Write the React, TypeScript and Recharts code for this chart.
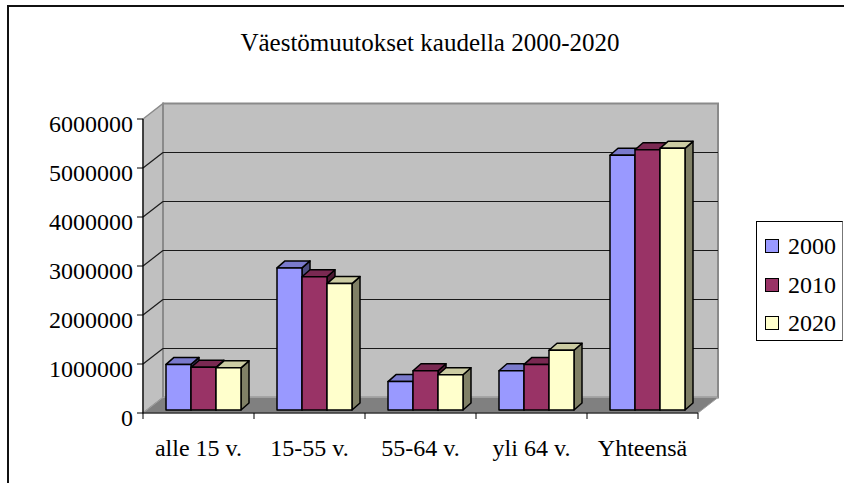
import React from 'react';
import { BarChart, Bar, XAxis, YAxis, ReferenceArea } from 'recharts';

// Väestö ikäryhmittäin, luettu kuvasta
const categories = ['alle 15 v.', '15-55 v.', '55-64 v.', 'yli 64 v.', 'Yhteensä'];
const values2000 = [930000, 2900000, 580000, 800000, 5200000];
const values2010 = [870000, 2720000, 800000, 930000, 5310000];
const values2020 = [860000, 2580000, 720000, 1220000, 5340000];
const seriesNames = ['2000', '2010', '2020'];
const seriesColors = ['#9999FF', '#993366', '#FFFFCC'];
const yTicks = [0, 1000000, 2000000, 3000000, 4000000, 5000000, 6000000];

const FONT = "'Liberation Serif', 'Times New Roman', serif";
// depth of the plot box and of the columns
const DX = 20;
const DY = -15.5;
const FRONT_DX = 5;
const FRONT_DY = -3;
const COL_DX = 8;
const COL_DY = -7;

const data = categories.map((name, i) => ({
  name,
  s2000: values2000[i],
  s2010: values2010[i],
  s2020: values2020[i],
}));

const shade = (hex: string, k: number) => {
  const n = parseInt(hex.slice(1), 16);
  const r = Math.round(((n >> 16) & 255) * k);
  const g = Math.round(((n >> 8) & 255) * k);
  const b = Math.round((n & 255) * k);
  return `rgb(${r},${g},${b})`;
};

const Column3D = (props: any) => {
  const { x, y, width, height, fill } = props;
  if (!width || height == null) return null;
  const x0 = x + FRONT_DX;
  const y0 = y + FRONT_DY;
  const x1 = x0 + width;
  const yb = y0 + height;
  const top = `${x0},${y0} ${x0 + COL_DX},${y0 + COL_DY} ${x1 + COL_DX},${y0 + COL_DY} ${x1},${y0}`;
  const side = `${x1},${y0} ${x1 + COL_DX},${y0 + COL_DY} ${x1 + COL_DX},${yb + COL_DY} ${x1},${yb}`;
  return (
    <g stroke="#000" strokeWidth={1.5} strokeLinejoin="round">
      <polygon points={side} fill={shade(fill, 0.5)} />
      <polygon points={top} fill={shade(fill, 0.8)} />
      <rect x={x0} y={y0} width={width} height={height} fill={fill} />
    </g>
  );
};

// back wall, side wall, floor and grid of the 3D box
const Walls = (props: any) => {
  const { x, y, width, height } = props;
  const max = yTicks[yTicks.length - 1];
  const base = y + height;
  const n = categories.length;
  return (
    <g>
      <polygon
        points={`${x},${y} ${x + DX},${y + DY} ${x + DX},${base + DY} ${x},${base}`}
        fill="#c0c0c0"
        stroke="#8a8a8a"
        strokeWidth={1.5}
      />
      <rect x={x + DX} y={y + DY} width={width} height={height} fill="#c0c0c0" stroke="#8a8a8a" strokeWidth={2} />
      {yTicks
        .filter((v) => v > 0 && v < max)
        .map((v) => {
          const gy = y + height * (1 - v / max);
          return (
            <g key={v} stroke="#1a1a1a" strokeWidth={1.2}>
              <line x1={x + DX} y1={gy + DY} x2={x + DX + width} y2={gy + DY} />
              <line x1={x} y1={gy} x2={x + DX} y2={gy + DY} />
            </g>
          );
        })}
      <polygon
        points={`${x},${base} ${x + DX},${base + DY} ${x + DX + width},${base + DY} ${x + width},${base}`}
        fill="#808080"
        stroke="#a0a0a0"
        strokeWidth={1}
      />
      {categories.concat(['']).map((_, i) => {
        const tx = x + (width * i) / n;
        return <line key={i} x1={tx} y1={base} x2={tx} y2={base + 6} stroke="#000" strokeWidth={1} />;
      })}
    </g>
  );
};

const YTick = (props: any) => {
  const { x, y, payload } = props;
  return (
    <text x={x} y={y} dy={13} textAnchor="end" style={{ fontFamily: FONT }} fontSize={24} fill="#000">
      {String(payload.value)}
    </text>
  );
};

const XTick = (props: any) => {
  const { x, y, payload } = props;
  return (
    <text x={x} y={y} dy={43} textAnchor="middle" style={{ fontFamily: FONT }} fontSize={24} fill="#000">
      {payload.value}
    </text>
  );
};

const LegendBox = () => (
  <div
    style={{
      position: 'absolute',
      left: 756,
      top: 221,
      width: 87,
      height: 120,
      border: '1px solid #000',
      borderRightColor: '#777',
      background: '#fff',
      boxSizing: 'border-box',
      paddingTop: 5,
    }}
  >
    {seriesNames.map((name, i) => (
      <div key={name} style={{ display: 'flex', alignItems: 'center', height: 38.5, paddingLeft: 8 }}>
        <span
          style={{
            display: 'inline-block',
            width: 12,
            height: 12,
            background: seriesColors[i],
            border: '1.5px solid #000',
            marginRight: 9,
          }}
        />
        <span style={{ fontFamily: FONT, fontSize: 24, color: '#000', lineHeight: '24px' }}>{name}</span>
      </div>
    ))}
  </div>
);

export default function App() {
  return (
    <div style={{ position: 'absolute', left: 0, top: 0, width: 844, height: 483, overflow: 'hidden', background: '#fff' }}>
      <div
        style={{
          position: 'absolute',
          left: 7,
          top: 5,
          width: 900,
          height: 600,
          borderLeft: '2px solid #111',
          borderTop: '2px solid #111',
        }}
      />
      <div
        style={{
          position: 'absolute',
          left: 0,
          top: 30,
          width: 860,
          textAlign: 'center',
          fontFamily: FONT,
          fontSize: 25,
          lineHeight: '25px',
          color: '#000',
        }}
      >
        Väestömuutokset kaudella 2000-2020
      </div>
      <div style={{ position: 'absolute', left: 0, top: 0 }}>
        <BarChart
          width={844}
          height={483}
          data={data}
          margin={{ top: 119, right: 146, bottom: 10, left: 8 }}
          barGap={0}
        >
          <ReferenceArea y1={0} y2={yTicks[yTicks.length - 1]} shape={Walls} ifOverflow="visible" />
          <XAxis
            dataKey="name"
            height={60}
            axisLine={{ stroke: '#000', strokeWidth: 1.2 }}
            tickLine={false}
            tickSize={0}
            tickMargin={0}
            tick={<XTick />}
            interval={0}
          />
          <YAxis
            width={135}
            domain={[0, yTicks[yTicks.length - 1]]}
            ticks={yTicks}
            interval={0}
            axisLine={{ stroke: '#000', strokeWidth: 1.2 }}
            tickLine={{ stroke: '#000' }}
            tickSize={6}
            tickMargin={4}
            tick={<YTick />}
          />
          {['s2000', 's2010', 's2020'].map((key, i) => (
            <Bar
              key={key}
              dataKey={key}
              name={seriesNames[i]}
              fill={seriesColors[i]}
              barSize={25}
              shape={<Column3D />}
              isAnimationActive={false}
            />
          ))}
        </BarChart>
      </div>
      <LegendBox />
    </div>
  );
}
